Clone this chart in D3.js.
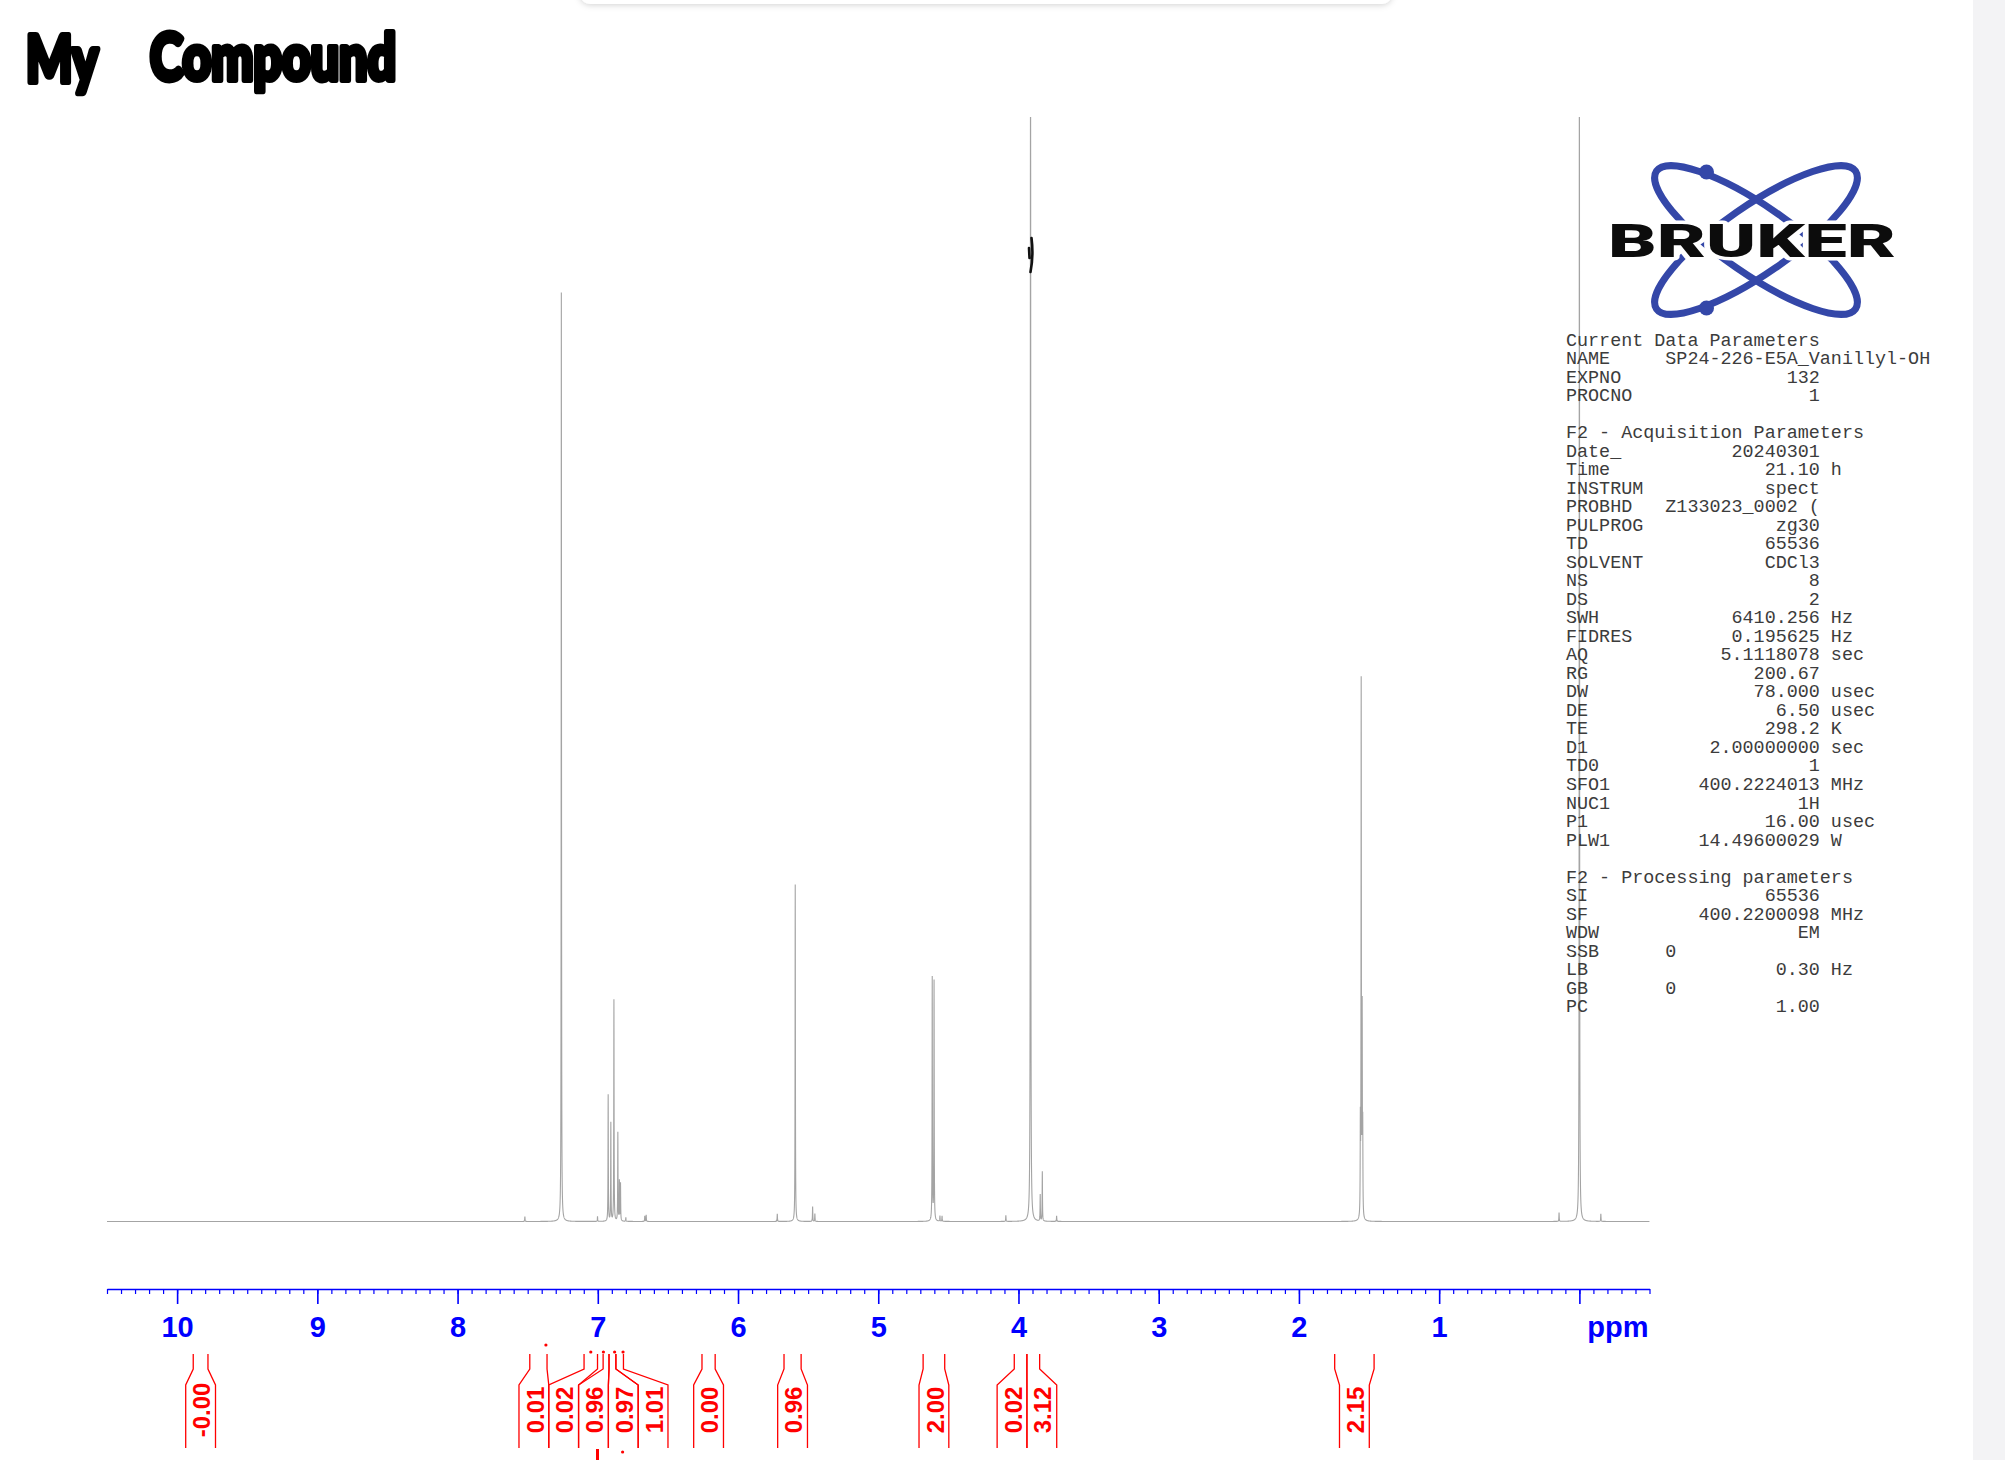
<!DOCTYPE html>
<html><head><meta charset="utf-8">
<script src="https://cdn.jsdelivr.net/npm/d3@7"></script>
<style>
html,body{margin:0;padding:0;background:#fff;}
svg{display:block;}
</style></head><body>
<svg id="chart" width="2005" height="1460"></svg>
<script>
// ---------------- DATA ----------------
const titleWords = ["My", "Compound"];
const peakPpm = [7.52, 7.26, 7.002, 6.926, 6.907, 6.885, 6.857, 6.846, 6.838, 6.80, 6.665, 6.655,
  5.72, 5.592, 5.468, 5.452, 4.615, 4.602, 4.56, 4.545, 4.09, 3.914, 3.845, 3.83, 3.728,
  1.556, 1.549, 1.562, 1.545, 0.145, 0.0, -0.153];
const peakIntensity = [0.45, 84.1, 0.45, 11.45, 8.9, 20.05, 8.0, 3.6, 3.4, 0.35, 0.5, 0.6,
  0.7, 30.5, 1.35, 0.7, 22.0, 21.7, 0.5, 0.5, 0.55, 150, 2.4, 4.5, 0.5,
  48.3, 18, 8, 7.5, 0.8, 120, 0.7];
const integralLabels = ["-0.00", "0.01", "0.02", "0.96", "0.97", "1.01", "0.00", "0.96", "2.00", "0.02", "3.12", "2.15"];
const integralFrom = [9.885, 7.485, 7.098, 6.962, 6.920, 6.871, 6.257, 5.672, 4.680, 4.030, 3.940, 1.745];
const integralTo   = [9.780, 7.362, 7.002, 6.920, 6.871, 6.817, 6.163, 5.550, 4.526, 3.940, 3.849, 1.464];
const integralMarkPpm = [7.37, 7.05, 6.96, 6.88, 6.82];
const majorTicks = [10, 9, 8, 7, 6, 5, 4, 3, 2, 1, 0];
const tickLabels = ["10", "9", "8", "7", "6", "5", "4", "3", "2", "1", ""];
const axisUnit = "ppm";
const ppmDomain = [10.5, -0.5];

const sectionTitles = ["Current Data Parameters", "F2 - Acquisition Parameters", "F2 - Processing parameters"];
const currentNames = ["NAME", "EXPNO", "PROCNO"];
const currentValues = ["SP24-226-E5A_Vanillyl-OH", "132", "1"];
const currentUnits = ["", "", ""];
const acqNames = ["Date_", "Time", "INSTRUM", "PROBHD", "PULPROG", "TD", "SOLVENT", "NS", "DS", "SWH", "FIDRES", "AQ", "RG", "DW", "DE", "TE", "D1", "TD0", "SFO1", "NUC1", "P1", "PLW1"];
const acqValues = ["20240301", "21.10", "spect", "Z133023_0002 (", "zg30", "65536", "CDCl3", "8", "2", "6410.256", "0.195625", "5.1118078", "200.67", "78.000", "6.50", "298.2", "2.00000000", "1", "400.2224013", "1H", "16.00", "14.49600029"];
const acqUnits = ["", "h", "", "", "", "", "", "", "", "Hz", "Hz", "sec", "", "usec", "usec", "K", "sec", "", "MHz", "", "usec", "W"];
const procNames = ["SI", "SF", "WDW", "SSB", "LB", "GB", "PC"];
const procValues = ["65536", "400.2200098", "EM", "0", "0.30", "0", "1.00"];
const procUnits = ["", "MHz", "", "", "Hz", "", ""];
const leftAlignedParams = ["NAME", "SSB", "GB"];

// ---------------- DRAW ----------------
const svg = d3.select("#chart");
const BLUE = "#0000ff", RED = "#ff0000";

const defs = svg.append("defs");
defs.append("clipPath").attr("id", "plotClip").append("rect")
  .attr("x", 100).attr("y", 117).attr("width", 1560).attr("height", 1200);
const f = defs.append("filter").attr("id", "shadow").attr("x", "-10%").attr("y", "-100%").attr("width", "120%").attr("height", "400%");
f.append("feDropShadow").attr("dx", 0).attr("dy", 1).attr("stdDeviation", 3).attr("flood-color", "#000").attr("flood-opacity", 0.18);

// page decorations
svg.append("rect").attr("x", 1973).attr("y", 0).attr("width", 32).attr("height", 1460).attr("fill", "#f3f3f5");
svg.append("rect").attr("x", 580).attr("y", -16).attr("width", 812).attr("height", 20).attr("rx", 10)
  .attr("fill", "#fff").attr("filter", "url(#shadow)");

const x = d3.scaleLinear().domain(ppmDomain).range([107, 1649.5]);
const y = d3.scaleLinear().domain([0, 100]).range([1221.5, 117]);

// spectrum as sum of Lorentzian lines at the read peak positions
const hw = 0.0013;
let samples = d3.range(ppmDomain[0], ppmDomain[1], -0.0005).concat(peakPpm);
samples.sort((a, b) => b - a);
const spec = samples.map(p => {
  let s = 0;
  for (let i = 0; i < peakPpm.length; i++) {
    const d = (p - peakPpm[i]) / hw;
    s += peakIntensity[i] / (1 + d * d);
  }
  return [p, s];
});
svg.append("g").attr("clip-path", "url(#plotClip)").append("path")
  .datum(spec)
  .attr("d", d3.line().x(d => x(d[0])).y(d => Math.max(y(d[1]), 110)))
  .attr("fill", "none").attr("stroke", "#a4a4a4").attr("stroke-width", 1.1);

// hand mark near the methoxy peak
svg.append("path").attr("d", "M1031.5,238 C1033,250 1032.5,262 1030.5,272 M1029,248 L1029.5,258")
  .attr("fill", "none").attr("stroke", "#111").attr("stroke-width", 2.6).attr("stroke-linecap", "round");

// axis
const axisY = 1289;
const minor = d3.range(105, -6, -1).map(v => v / 10);
svg.append("g").attr("transform", `translate(0,${axisY})`)
  .call(d3.axisBottom(x).tickValues(minor).tickSize(5).tickSizeOuter(0).tickFormat(""))
  .call(g => { g.select(".domain").attr("stroke", BLUE).attr("stroke-width", 1.6); g.selectAll(".tick line").attr("stroke", BLUE).attr("stroke-width", 1.2); });
svg.append("g").attr("transform", `translate(0,${axisY})`)
  .call(d3.axisBottom(x).tickValues(majorTicks).tickSize(15).tickSizeOuter(0).tickPadding(0)
    .tickFormat((d, i) => tickLabels[i]))
  .call(g => {
    g.select(".domain").remove();
    g.selectAll(".tick line").attr("stroke", BLUE).attr("stroke-width", 1.6);
    g.selectAll(".tick text").attr("fill", BLUE).attr("y", 48).attr("dy", 0)
      .attr("font-family", "Liberation Sans, Arial, sans-serif").attr("font-weight", "bold").attr("font-size", 29);
  });
svg.append("text").attr("x", x(ppmDomain[1]) - 1).attr("y", axisY + 48).attr("text-anchor", "end")
  .attr("fill", BLUE).attr("font-family", "Liberation Sans, Arial, sans-serif").attr("font-weight", "bold").attr("font-size", 29)
  .text(axisUnit);

// integrals: layout label boxes
const W = 29.8;
let groups = integralLabels.map((l, i) => ({ idx: [i], center: (x(integralFrom[i]) + x(integralTo[i])) / 2 }));
let changed = true;
while (changed) {
  changed = false;
  groups.sort((a, b) => a.center - b.center);
  for (let k = 0; k < groups.length - 1; k++) {
    const a = groups[k], b = groups[k + 1];
    const aR = a.center + a.idx.length * W / 2, bL = b.center - b.idx.length * W / 2;
    if (aR > bL + 0.01) {
      const idx = a.idx.concat(b.idx);
      const cs = idx.map(i => (x(integralFrom[i]) + x(integralTo[i])) / 2);
      groups.splice(k, 2, { idx: idx, center: d3.mean(cs) });
      changed = true; break;
    }
  }
}
const boxLeft = [];
groups.forEach(g => {
  const order = g.idx.slice().sort((p, q) => x(integralFrom[p]) - x(integralFrom[q]));
  const start = g.center - order.length * W / 2;
  order.forEach((i, k) => boxLeft[i] = start + k * W);
});
const yTop = 1354, yB1 = 1369, yB2 = 1385, yBot = 1448;
const ig = svg.append("g");
integralLabels.forEach((lab, i) => {
  const xa = x(integralFrom[i]), xb = x(integralTo[i]);
  const bl = boxLeft[i], br = bl + W;
  ig.append("path").attr("d", `M${xa},${yTop}V${yB1}L${bl},${yB2}V${yBot}M${xb},${yTop}V${yB1}L${br},${yB2}V${yBot}`)
    .attr("fill", "none").attr("stroke", RED).attr("stroke-width", 1.3);
  const cx = bl + W / 2 + 1;
  ig.append("text").attr("transform", `translate(${cx},1410) rotate(-90)`)
    .attr("text-anchor", "middle").attr("dy", "0.36em")
    .attr("fill", RED).attr("font-family", "Liberation Sans, Arial, sans-serif").attr("font-weight", "bold").attr("font-size", 24)
    .text(lab);
});
integralMarkPpm.forEach((p, i) => {
  ig.append("circle").attr("cx", x(p)).attr("cy", i === 0 ? 1345 : 1352).attr("r", 1.6).attr("fill", RED);
});
ig.append("path").attr("d", `M${x(7.002)},1449V1460`).attr("stroke", RED).attr("stroke-width", 3);
ig.append("circle").attr("cx", x(6.823)).attr("cy", 1452).attr("r", 1.6).attr("fill", RED);

// title (handwritten style)
const tg = svg.append("g").attr("font-family", "Lato, 'Open Sans', sans-serif").attr("font-weight", 900)
  .attr("font-size", 64).attr("fill", "#000").attr("stroke", "#000").attr("stroke-width", 6)
  .attr("stroke-linejoin", "round").attr("stroke-linecap", "round");
tg.append("text").attr("x", 26).attr("y", 82).attr("textLength", 72).attr("lengthAdjust", "spacingAndGlyphs").text(titleWords[0]);
tg.append("text").attr("x", 150).attr("y", 80).attr("textLength", 246).attr("lengthAdjust", "spacingAndGlyphs").text(titleWords[1]);

// Bruker logo
const lg = svg.append("g");
[34.7, -34.7].forEach(a => {
  lg.append("ellipse").attr("cx", 1756).attr("cy", 240).attr("rx", 121).attr("ry", 34)
    .attr("transform", `rotate(${a},1756,240)`).attr("fill", "none").attr("stroke", "#3447a8").attr("stroke-width", 7);
});
lg.append("circle").attr("cx", 1706.5).attr("cy", 172).attr("r", 7.5).attr("fill", "#3447a8");
lg.append("circle").attr("cx", 1706.5).attr("cy", 308).attr("r", 7.5).attr("fill", "#3447a8");
lg.append("text").attr("x", 1608).attr("y", 257).attr("textLength", 288).attr("lengthAdjust", "spacingAndGlyphs")
  .attr("font-family", "Roboto, 'Liberation Sans', sans-serif").attr("font-weight", 900).attr("font-size", 46)
  .attr("fill", "#0c0c0c").attr("stroke", "#fff").attr("stroke-width", 7).attr("paint-order", "stroke").attr("stroke-linejoin", "round")
  .text("BRUKER");

// parameter block
function fmt(n, v, u) {
  let s;
  if (leftAlignedParams.includes(n) || v.length > 14) s = n.padEnd(9) + v;
  else s = n.padEnd(23 - v.length) + v;
  if (u) s += " " + u;
  return s;
}
const lines = [sectionTitles[0]]
  .concat(currentNames.map((n, i) => fmt(n, currentValues[i], currentUnits[i])))
  .concat([""]).concat([sectionTitles[1]])
  .concat(acqNames.map((n, i) => fmt(n, acqValues[i], acqUnits[i])))
  .concat([""]).concat([sectionTitles[2]])
  .concat(procNames.map((n, i) => fmt(n, procValues[i], procUnits[i])));
const pg = svg.append("g").attr("font-family", "'Liberation Mono', 'DejaVu Sans Mono', monospace").attr("font-size", 18.4)
  .attr("fill", "#3c3c3c");
lines.forEach((s, i) => {
  if (!s) return;
  pg.append("text").attr("x", 1566).attr("y", 345.5 + i * 18.52).attr("xml:space", "preserve")
    .style("white-space", "pre").text(s);
});
</script>
</body></html>
